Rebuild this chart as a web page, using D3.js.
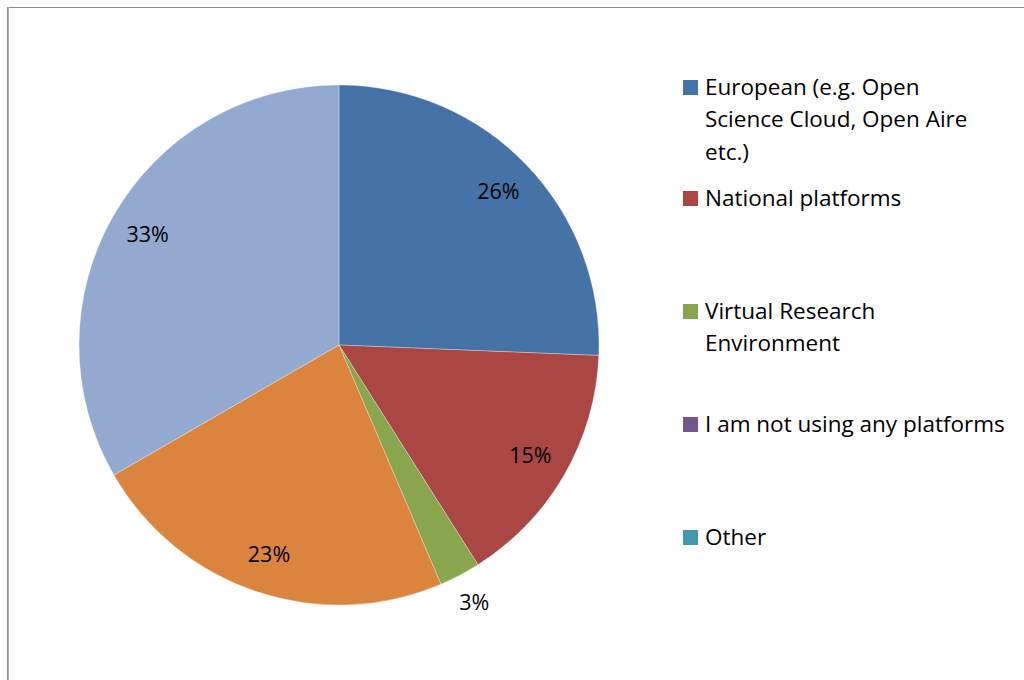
<!DOCTYPE html>
<html>
<head>
<meta charset="utf-8">
<script src="https://cdn.jsdelivr.net/npm/d3@7"></script>
<style>
  body { margin: 0; background: #fff; }
  svg { display: block; }
  text { font-family: "Open Sans", "Liberation Sans", sans-serif; fill: #000; }
</style>
</head>
<body>
<div class="graph"></div>
<script>
// categories in series order (last two are not listed in the legend, it runs out of room)
var categories = [
  "European (e.g. Open Science Cloud, Open Aire etc.)",
  "National platforms",
  "Virtual Research Environment",
  "I am not using any platforms",
  "Other",
  "Category 6",
  "Category 7"
];
// number of answers per category (n = 39)
var counts = [10, 6, 1, 0, 0, 9, 13];
var colors = ["#4572a7", "#aa4643", "#89a54e", "#71588f", "#4198af", "#db843d", "#93a9cf"];
// legend lines as they wrap in the picture
var legendLines = [
  ["European (e.g. Open", "Science Cloud, Open Aire", "etc.)"],
  ["National platforms"],
  ["Virtual Research", "Environment"],
  ["I am not using any platforms"],
  ["Other"]
];

var width = 1024, height = 680;
var cx = 339, cy = 345, radius = 260;

var svg = d3.select("div.graph").append("svg")
    .attr("width", width)
    .attr("height", height);

// chart area frame (runs off the right and bottom edges)
svg.append("rect")
    .attr("x", 7.5).attr("y", 7.5)
    .attr("width", 1100).attr("height", 800)
    .attr("fill", "none")
    .attr("stroke", "#8c8c8c")
    .attr("stroke-width", 1);
svg.append("line")
    .attr("x1", 8.5).attr("x2", 8.5).attr("y1", 7).attr("y2", 680)
    .attr("stroke", "#b0b0b0").attr("stroke-width", 1);

var data = categories.map(function(c, i) { return {name: c, value: counts[i], color: colors[i]}; });
var total = d3.sum(counts);

var pie = d3.pie().sort(null).value(function(d) { return d.value; });
var arcs = pie(data);

var arc = d3.arc().innerRadius(0).outerRadius(radius);
var labelArc = d3.arc().innerRadius(221).outerRadius(221);
var outsideArc = d3.arc().innerRadius(291).outerRadius(291);

var g = svg.append("g").attr("transform", "translate(" + cx + "," + cy + ")");

g.selectAll("path")
  .data(arcs.filter(function(d) { return d.value > 0; }))
  .enter().append("path")
    .attr("d", arc)
    .attr("fill", function(d) { return d.data.color; })
    .attr("stroke", "#fff")
    .attr("stroke-width", 0.3);

g.selectAll("text.lbl")
  .data(arcs.filter(function(d) { return d.value > 0; }))
  .enter().append("text")
    .attr("class", "lbl")
    .attr("transform", function(d) {
      var pct = d.value / total;
      var p = pct < 0.05 ? outsideArc.centroid(d) : labelArc.centroid(d);
      return "translate(" + p[0] + "," + p[1] + ")";
    })
    .attr("text-anchor", "middle")
    .attr("dy", "0.35em")
    .style("font-size", "21.5px")
    .text(function(d) { return Math.round(d.value * 100 / total) + "%"; });

// legend
var legendY = [87, 198, 311, 424, 537];
var legend = svg.append("g");
legendLines.forEach(function(lines, i) {
  legend.append("rect")
    .attr("x", 683).attr("y", legendY[i] - 7)
    .attr("width", 15).attr("height", 15)
    .attr("fill", colors[i]);
  lines.forEach(function(line, j) {
    legend.append("text")
      .attr("x", 705)
      .attr("y", legendY[i] + j * 32.5)
      .attr("dy", "0.35em")
      .style("font-size", "22.5px")
      .text(line);
  });
});
</script>
</body>
</html>
